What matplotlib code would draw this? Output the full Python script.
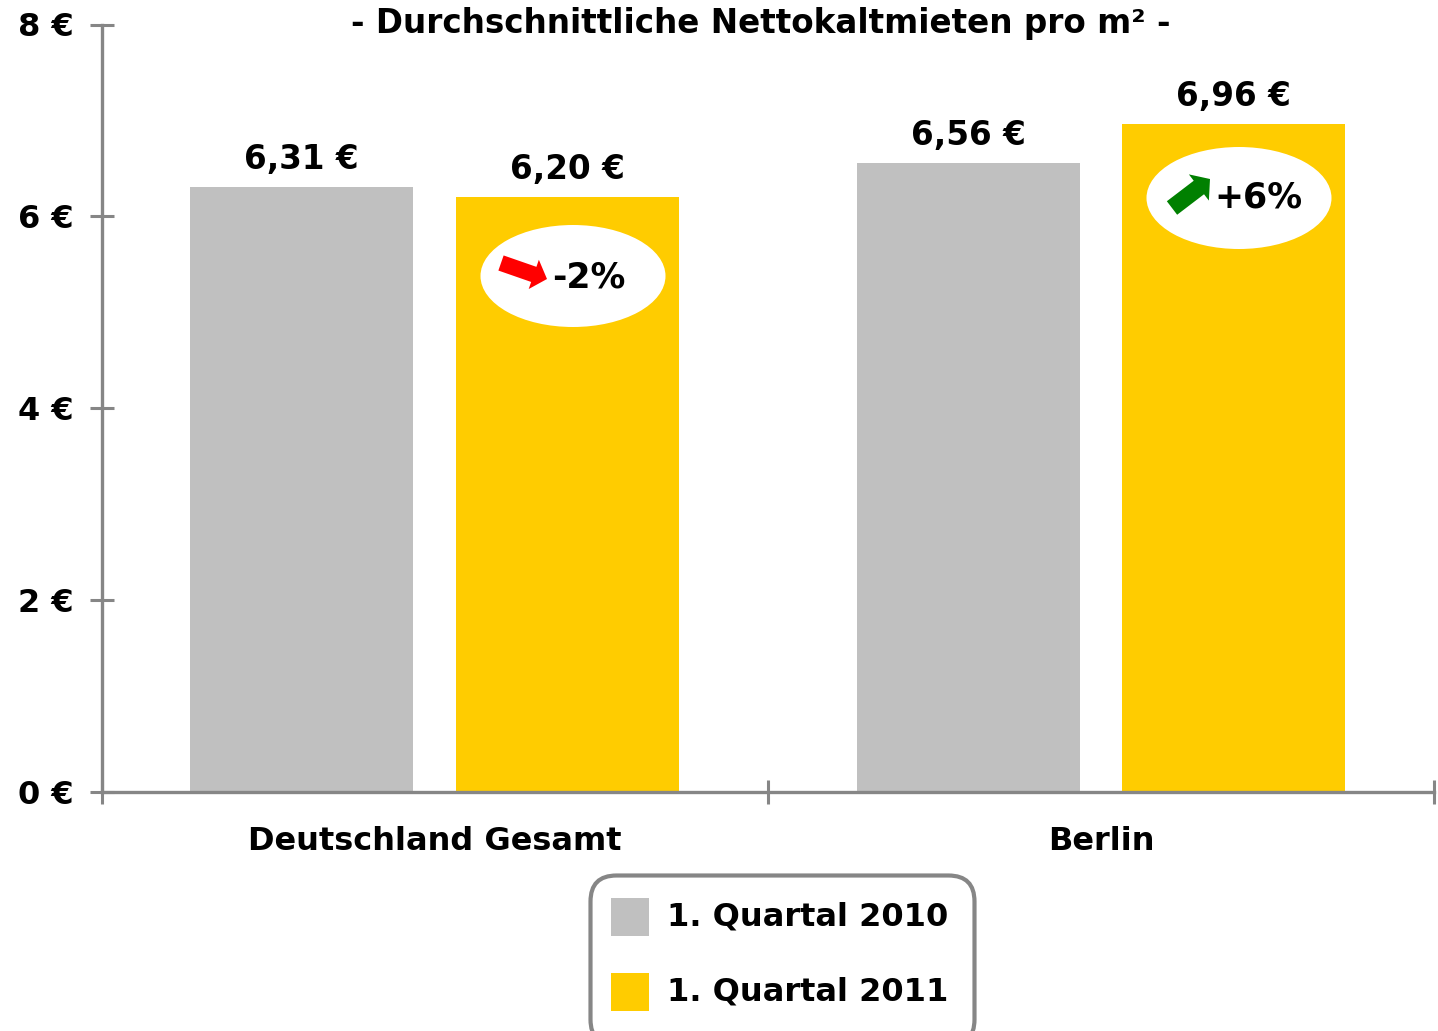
import matplotlib
matplotlib.use('Agg')
import matplotlib.pyplot as plt
from matplotlib.patches import Ellipse, FancyArrow, FancyBboxPatch, Rectangle

categories = ['Deutschland Gesamt', 'Berlin']
series_names = ['1. Quartal 2010', '1. Quartal 2011']
q1_2010 = [6.31, 6.56]
q1_2011 = [6.20, 6.96]
labels_2010 = ['6,31 €', '6,56 €']
labels_2011 = ['6,20 €', '6,96 €']
yticks = [0, 2, 4, 6, 8]
ytick_labels = ['0 €', '2 €', '4 €', '6 €', '8 €']

W, H = 1438, 1031
GREY = '#c0c0c0'
GOLD = '#ffcc00'
AXIS = '#868686'
FONT = 'DejaVu Sans'

plt.rcParams['font.family'] = FONT
plt.rcParams['font.weight'] = 'bold'

fig = plt.figure(figsize = (W / 100, H / 100), dpi = 100)
ax = fig.add_axes([102 / W, 1 - 791.5 / H, (1434 - 102) / W, (791.5 - 24.5) / H])
ax.set_xlim(0, 2)
ax.set_ylim(0, 8)

bar_w = 223 / 666
x_2010 = [0.2995, 1.301]
x_2011 = [0.699, 1.699]
ax.bar(x_2010, q1_2010, bar_w, color = GREY, align = 'center')
ax.bar(x_2011, q1_2011, bar_w, color = GOLD, align = 'center')

for x, v, s in zip(x_2010, q1_2010, labels_2010):
  ax.annotate(s, (x, v), xytext = (0, 11), textcoords = 'offset pixels', ha = 'center', va = 'bottom', fontsize = 23.5)
for x, v, s in zip(x_2011, q1_2011, labels_2011):
  ax.annotate(s, (x, v), xytext = (0, 11), textcoords = 'offset pixels', ha = 'center', va = 'bottom', fontsize = 23.5)

for side in ['top', 'right']:
  ax.spines[side].set_visible(False)
for side in ['left', 'bottom']:
  ax.spines[side].set_color(AXIS)
  ax.spines[side].set_linewidth(2.4)

ax.set_yticks(yticks)
ax.set_yticklabels(ytick_labels, fontsize = 23)
ax.tick_params(axis = 'y', direction = 'inout', length = 16.6, width = 2.2, color = AXIS, pad = 12)
ax.set_xticks([0, 1, 2])
ax.set_xticklabels([])
ax.tick_params(axis = 'x', direction = 'inout', length = 16.6, width = 2.2, color = AXIS)
for x, c in zip([0.5, 1.5], categories):
  ax.annotate(c, (x, 0), xytext = (0, -50), textcoords = 'offset pixels', ha = 'center', va = 'center', fontsize = 23)

# everything below is placed in reference pixels
ov = fig.add_axes([0, 0, 1, 1])
ov.set_xlim(0, W)
ov.set_ylim(H, 0)
ov.axis('off')
ov.patch.set_alpha(0)

ov.text(761, 23.5, '- Durchschnittliche Nettokaltmieten pro m² -', ha = 'center', va = 'center', fontsize = 23.5)

ov.add_patch(Ellipse((573, 276), 185, 102, color = 'white', lw = 0))
ov.add_patch(Ellipse((1239, 198), 185, 102, color = 'white', lw = 0))
ov.add_patch(FancyArrow(501, 263, 46, 16, width = 16, head_width = 31, head_length = 14,
  length_includes_head = True, color = '#ff0000', lw = 0))
ov.add_patch(FancyArrow(1172, 208, 38, -29, width = 17, head_width = 33, head_length = 14,
  length_includes_head = True, color = '#008000', lw = 0))
ov.text(588.5, 278, '-2%', ha = 'center', va = 'center', fontsize = 25)
ov.text(1258, 197, '+6%', ha = 'center', va = 'center', fontsize = 25)

ov.add_patch(FancyBboxPatch((590.5, 875.5), 384, 170, boxstyle = 'round,pad=0,rounding_size=26',
  fc = 'white', ec = AXIS, lw = 3, clip_on = True))
for y, c, name in zip([917, 992], [GREY, GOLD], series_names):
  ov.add_patch(Rectangle((611, y - 19), 38, 38, color = c, lw = 0))
  ov.text(667, y, name, ha = 'left', va = 'center', fontsize = 23)

fig.savefig('out.png', dpi = 100)
